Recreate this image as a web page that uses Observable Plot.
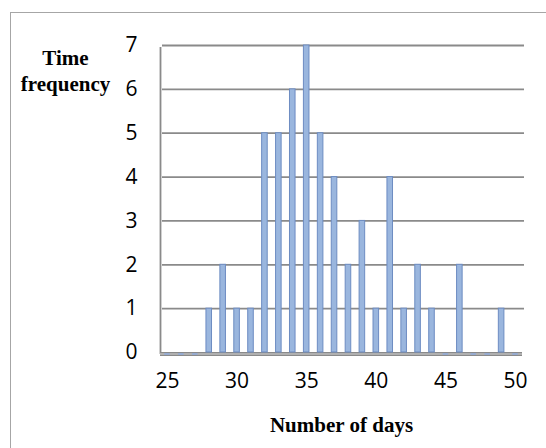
<!DOCTYPE html>
<html>
<head>
<meta charset="utf-8">
<script src="https://cdn.jsdelivr.net/npm/d3@7"></script>
<script src="https://cdn.jsdelivr.net/npm/@observablehq/plot@0.6"></script>
<style>
  html, body { margin: 0; padding: 0; background: #fff; overflow: hidden; }
  #wrap { position: relative; width: 546px; height: 448px; }
  #frame { position: absolute; left: 10px; top: 12px; width: 600px; height: 500px;
           border: 1.5px solid #a6a6a6; pointer-events: none; }
</style>
</head>
<body>
<div id="wrap"><div id="frame"></div></div>
<script>
const days = [25,26,27,28,29,30,31,32,33,34,35,36,37,38,39,40,41,42,43,44,45,46,47,48,49,50];
const frequency = [0,0,0,1,2,1,1,5,5,6,7,5,4,2,3,1,4,1,2,1,0,2,0,0,1,0];
const xTicks = [25,30,35,40,45,50];
const yTicks = [0,1,2,3,4,5,6,7];
const yTitle = "Time\nfrequency";
const xTitle = "Number of days";

const data = days.map((d, i) => ({day: d, freq: frequency[i]}));
const nonZero = data.filter(d => d.freq > 0);
const zeros = data.filter(d => d.freq === 0);
const half = 0.2;
const xMin = days[0] - 0.5, xMax = days[days.length - 1] + 0.5;

const chart = Plot.plot({
  width: 546,
  height: 448,
  marginLeft: 160,
  marginRight: 24,
  marginTop: 45,
  marginBottom: 96,
  style: {background: "transparent", overflow: "visible"},
  x: {domain: [xMin, xMax]},
  y: {domain: [0, 7]},
  marks: [
    Plot.ruleY(yTicks.filter(t => t > 0), {x1: xMin, x2: xMax, dx: 2, stroke: "#8a8a8a", strokeWidth: 1.8}),
    Plot.ruleX([xMin], {y1: 0, y2: 7, stroke: "#8a8a8a", strokeWidth: 1.8, dy: 2}),
    Plot.ruleY([0], {x1: xMin, x2: xMax, stroke: "#b0b0b0", strokeWidth: 4, dy: 1.5}),
    Plot.ruleY([0], {x1: xMin, x2: xMax, stroke: "#8a8a8a", strokeWidth: 1.2}),
    Plot.ruleY([0], {x1: xMin, x2: xMax, stroke: "#8a8a8a", strokeWidth: 1.2, dy: 3}),
    Plot.ruleY(zeros, {x1: d => d.day - half, x2: d => d.day + half, y: 0, stroke: "#8eaadb", strokeWidth: 1.5, dy: 1.5}),
    Plot.rectY(nonZero, {x1: d => d.day - half, x2: d => d.day + half, y1: 0, y2: "freq",
      fill: "#9ab6de", stroke: "#6d8cc2", strokeWidth: 1}),
    Plot.axisY({ticks: yTicks, tickFormat: "d", tickSize: 0, tickPadding: 23, label: null,
      fontSize: 21, fontFamily: "Open Sans", fill: "#000"}),
    Plot.axisX({ticks: xTicks, tickFormat: "d", tickSize: 0, tickPadding: 21, label: null,
      fontSize: 21, fontFamily: "Open Sans", fill: "#000"}),
    Plot.text([yTitle], {frameAnchor: "top-left", dx: -95, dy: 2, lineAnchor: "top",
      textAnchor: "middle", fontSize: 21, fontWeight: "bold", fontFamily: "Liberation Serif", lineHeight: 1.2, fill: "#000"}),
    Plot.text([xTitle], {frameAnchor: "bottom", dy: 79, textAnchor: "middle",
      fontSize: 21, fontWeight: "bold", fontFamily: "Liberation Serif", fill: "#000"})
  ]
});
document.getElementById("wrap").prepend(chart);
</script>
</body>
</html>
